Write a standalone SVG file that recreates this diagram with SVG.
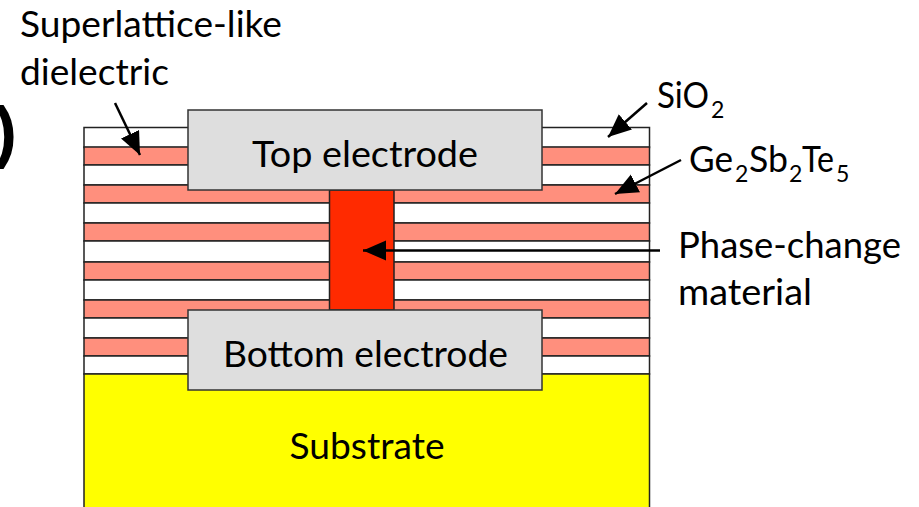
<svg xmlns="http://www.w3.org/2000/svg" width="919" height="507" viewBox="0 0 919 507">
<style>
text{font-family:"Lato","Liberation Sans",sans-serif;font-size:36.500px;fill:#000}
.sub{font-size:23px}
.si{fill:#fff;stroke:#222;stroke-width:1.5}
.gst{fill:#ff8f7d;stroke:#222;stroke-width:1.5}
.el{fill:#dedede;stroke:#333;stroke-width:1.5}
.ar{stroke:#000;stroke-width:2.5;fill:none;marker-end:url(#a)}
</style>
<defs><marker id="a" markerUnits="userSpaceOnUse" markerWidth="26" markerHeight="22" refX="23" refY="10" orient="auto"><path d="M0 0L23 10L0 20Z" fill="#000"/></marker></defs>
<rect width="919" height="507" fill="#fff"/>
<text x="-6" y="155" style="font-family:'Liberation Sans',sans-serif;font-size:69px;font-weight:bold">)</text>
<g id="stack">
<rect class="si" x="84" y="127.500" width="565.500" height="20"/>
<rect class="gst" x="84" y="147" width="565.500" height="18"/>
<rect class="si" x="84" y="165" width="565.500" height="20"/>
<rect class="gst" x="84" y="185" width="565.500" height="18"/>
<rect class="si" x="84" y="203" width="565.500" height="20"/>
<rect class="gst" x="84" y="223" width="565.500" height="18"/>
<rect class="si" x="84" y="241" width="565.500" height="21"/>
<rect class="gst" x="84" y="262" width="565.500" height="18"/>
<rect class="si" x="84" y="280" width="565.500" height="20"/>
<rect class="gst" x="84" y="300" width="565.500" height="18"/>
<rect class="si" x="84" y="318" width="565.500" height="20"/>
<rect class="gst" x="84" y="338" width="565.500" height="18"/>
<rect class="si" x="84" y="356" width="565.500" height="18"/>
</g>
<g id="substrate"><rect x="84" y="374" width="565.500" height="140" fill="#ffff00" stroke="#222" stroke-width="1.500"/>
<text x="367" y="459" text-anchor="middle" textLength="155" lengthAdjust="spacingAndGlyphs">Substrate</text></g>
<g id="phase-change"><rect x="329.500" y="190" width="64.500" height="120" fill="#ff2a00" stroke="#222" stroke-width="1.500"/></g>
<g id="top-electrode"><rect class="el" x="188" y="110" width="354" height="80"/>
<text x="365" y="167" text-anchor="middle" textLength="226" lengthAdjust="spacingAndGlyphs">Top electrode</text></g>
<g id="bottom-electrode"><rect class="el" x="188" y="310" width="354" height="80"/>
<text x="365.500" y="367" text-anchor="middle" textLength="285" lengthAdjust="spacingAndGlyphs">Bottom electrode</text></g>
<g id="connectors">
<line class="ar" x1="115" y1="103" x2="140" y2="155"/>
<line class="ar" x1="647" y1="103" x2="608" y2="137"/>
<line class="ar" x1="681" y1="160" x2="615" y2="194"/>
<line class="ar" x1="660" y1="250.500" x2="363" y2="250.500"/>
</g>
<g id="labels">
<text x="20" y="37" textLength="262" lengthAdjust="spacingAndGlyphs">Superlattice-like</text>
<text x="20" y="85" textLength="149" lengthAdjust="spacingAndGlyphs">dielectric</text>
<text x="657" y="108" textLength="52" lengthAdjust="spacingAndGlyphs">SiO</text><text class="sub" x="711" y="118">2</text>
<text x="689" y="172" textLength="44" lengthAdjust="spacingAndGlyphs">Ge</text><text class="sub" x="735" y="182">2</text>
<text x="749" y="172" textLength="39" lengthAdjust="spacingAndGlyphs">Sb</text><text class="sub" x="789" y="182">2</text>
<text x="802" y="172" textLength="32" lengthAdjust="spacingAndGlyphs">Te</text><text class="sub" x="836" y="182">5</text>
<text x="678" y="258" textLength="223" lengthAdjust="spacingAndGlyphs">Phase-change</text>
<text x="678" y="305" textLength="134" lengthAdjust="spacingAndGlyphs">material</text>
</g>
</svg>
